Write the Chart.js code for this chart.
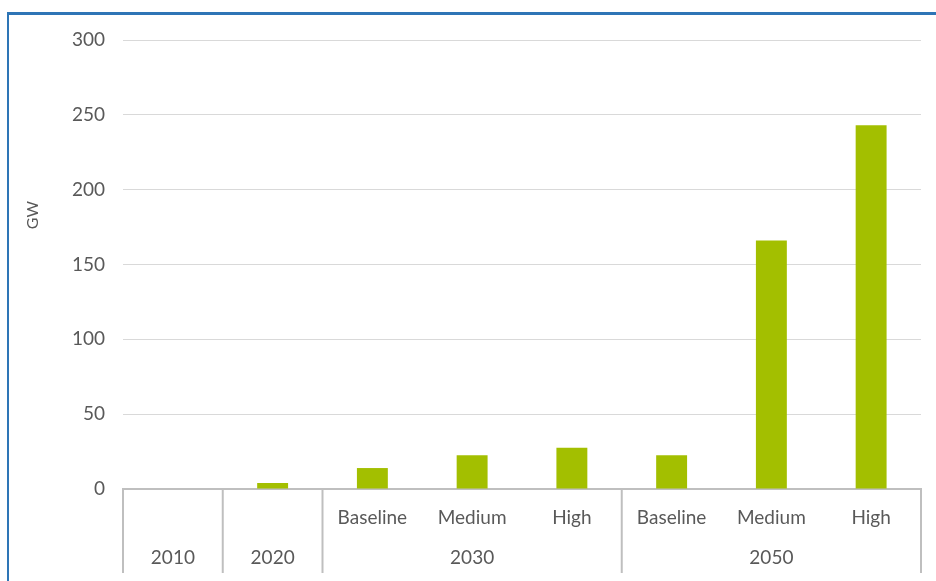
<!DOCTYPE html>
<html>
<head>
<meta charset="utf-8">
<script src="https://cdn.jsdelivr.net/npm/chart.js@4"></script>
<style>
  html, body { margin: 0; padding: 0; background: #fff; }
  #frame { position: absolute; left: 7px; top: 12px; width: 929px; height: 569px;
           border-left: 2px solid #2e75b6; border-top: 3px solid #2e75b6; }
  #wrap { position: absolute; left: 0; top: 0; width: 936px; height: 581px; }
</style>
</head>
<body>
<div id="frame"></div>
<div id="wrap"><canvas id="myChart"></canvas></div>
<script>
// podkategorie a skupiny pod osou x
let kategorie = ['', '', 'Baseline', 'Medium', 'High', 'Baseline', 'Medium', 'High'];
let skupiny = ['2010', '2020', '2030', '2030', '2030', '2050', '2050', '2050'];
let hodnoty = [0, 4, 14, 22.5, 27.5, 22.5, 166, 243];
let osaY = [0, 50, 100, 150, 200, 250, 300];

let SEDA = '#595959';
let PISMO = 'Lato, sans-serif';

// dvouradkove popisky osy x + oddelovace skupin
let popiskyPlugin = {
    id: 'popisky',
    afterDraw(chart) {
        let ctx = chart.ctx;
        let x = chart.scales.x;
        let area = chart.chartArea;
        let krok = x.getPixelForValue(1) - x.getPixelForValue(0);
        ctx.save();
        ctx.fillStyle = SEDA;
        ctx.font = '19px ' + PISMO;
        ctx.textAlign = 'center';
        ctx.textBaseline = 'middle';
        for (let i = 0; i < kategorie.length; i++) {
            if (kategorie[i]) ctx.fillText(kategorie[i], x.getPixelForValue(i), area.bottom + 29);
        }
        ctx.strokeStyle = '#bfbfbf';
        ctx.lineWidth = 2;
        let hrany = [];
        let start = 0;
        for (let i = 1; i <= skupiny.length; i++) {
            if (i === skupiny.length || skupiny[i] !== skupiny[start]) {
                let stred = (x.getPixelForValue(start) + x.getPixelForValue(i - 1)) / 2;
                ctx.fillText(skupiny[start], stred, area.bottom + 69);
                hrany.push(x.getPixelForValue(start) - krok / 2);
                start = i;
            }
        }
        hrany.push(x.getPixelForValue(skupiny.length - 1) + krok / 2);
        hrany.forEach(h => {
            ctx.beginPath();
            ctx.moveTo(h, area.bottom);
            ctx.lineTo(h, area.bottom + 84);
            ctx.stroke();
        });
        // popisek osy y
        ctx.translate(33, area.top + (area.bottom - area.top) * 0.39);
        ctx.rotate(-Math.PI / 2);
        ctx.font = '16px ' + PISMO;
        ctx.fillText('GW', 0, 0);
        ctx.restore();
    }
};

let ctx = document.getElementById('myChart').getContext('2d');
let myChart = new Chart(ctx, {
    type: 'bar',
    data: {
        labels: kategorie.map((k, i) => skupiny[i] + ' ' + k),
        datasets: [{
            data: hodnoty,
            backgroundColor: '#a3bf00',
            categoryPercentage: 1,
            barPercentage: 0.31
        }]
    },
    options: {
        responsive: true,
        maintainAspectRatio: false,
        animation: false,
        layout: { padding: { left: 0, right: 15, top: 40, bottom: 0 } },
        plugins: { legend: { display: false }, tooltip: { enabled: false } },
        scales: {
            x: {
                ticks: { display: false },
                grid: { display: false },
                border: { color: '#bfbfbf', width: 2 },
                afterFit: s => { s.height = 92; }
            },
            y: {
                min: 0,
                max: 300,
                afterBuildTicks: s => { s.ticks = osaY.map(v => ({ value: v })); },
                afterFit: s => { s.width = 123; },
                ticks: { color: SEDA, font: { family: PISMO, size: 19 }, padding: 18 },
                grid: { color: '#d9d9d9', drawTicks: false },
                border: { display: false }
            }
        }
    },
    plugins: [popiskyPlugin]
});
</script>
</body>
</html>
